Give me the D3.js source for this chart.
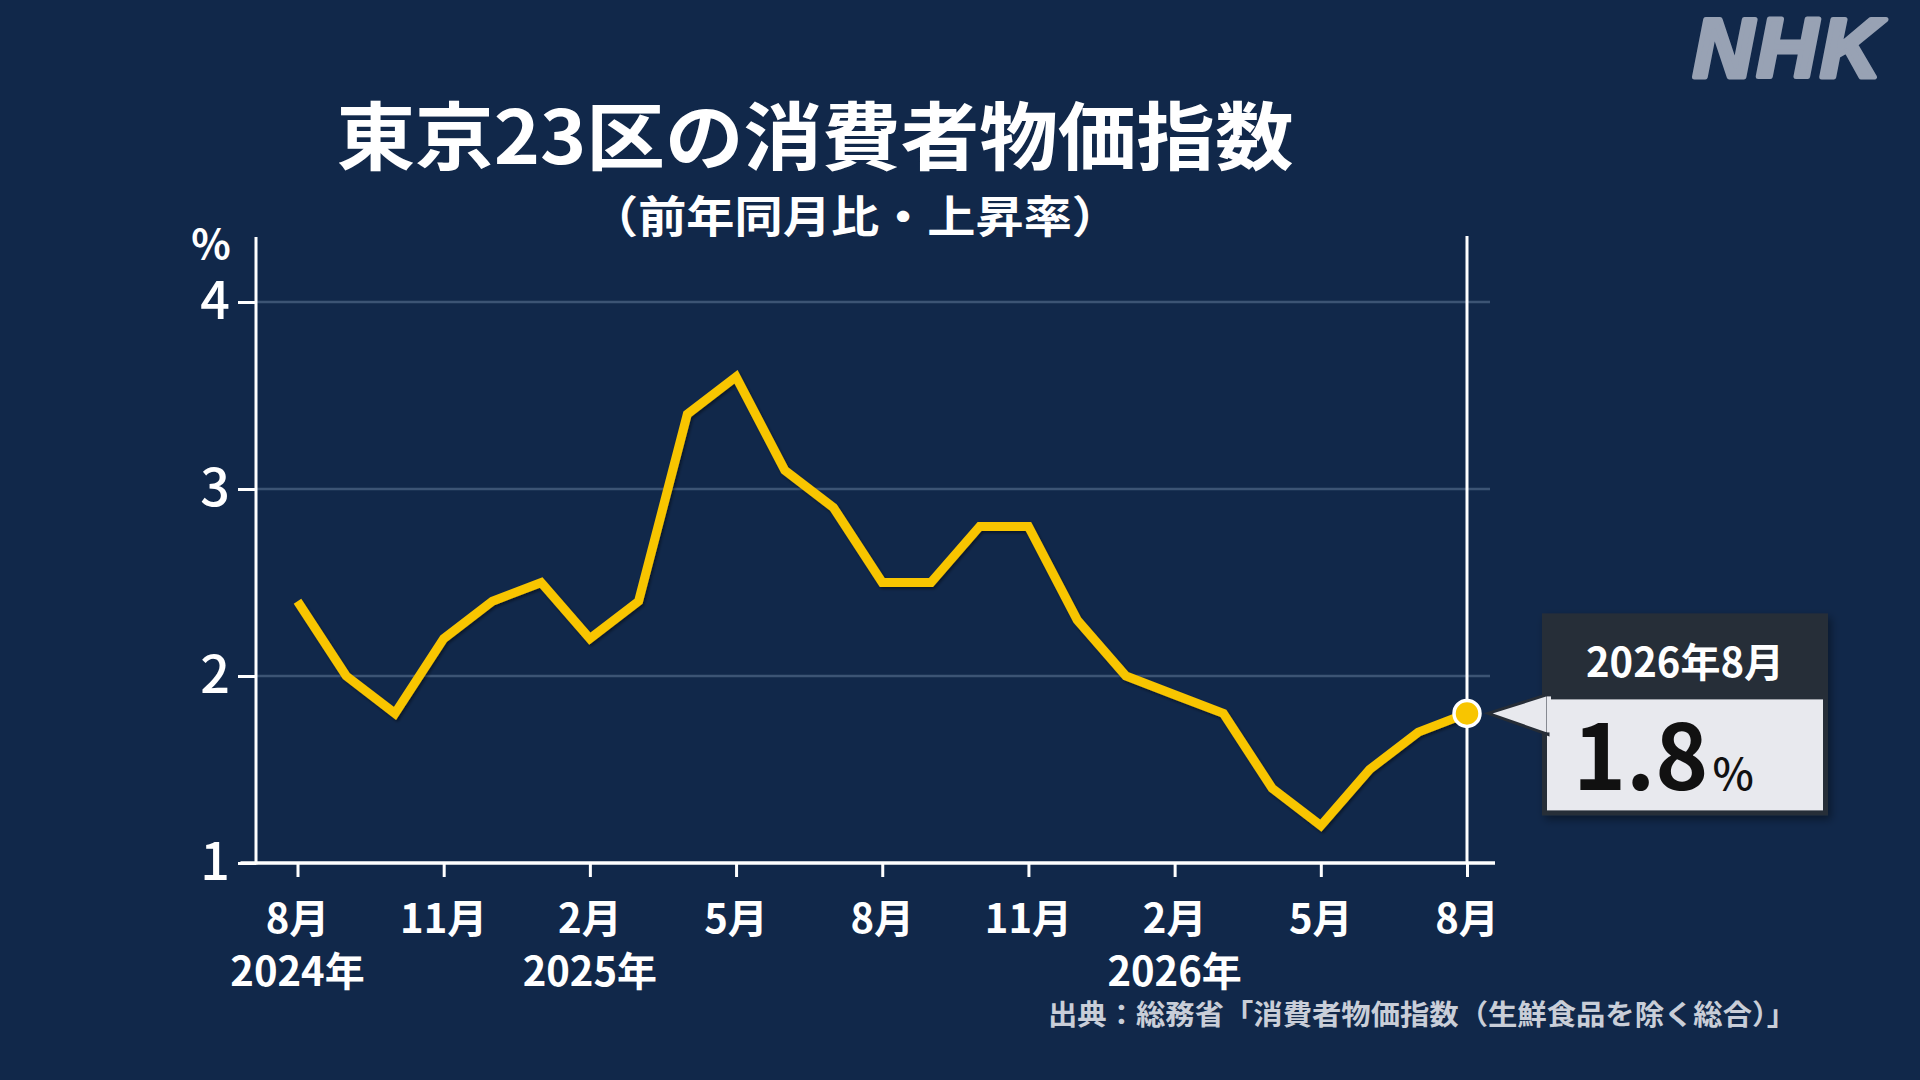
<!DOCTYPE html>
<html lang="ja">
<head>
<meta charset="utf-8">
<script src="https://cdn.jsdelivr.net/npm/d3@7"></script>
<style>
  html, body { margin: 0; padding: 0; background: #11284a; }
  svg { display: block; }
  text { font-family: "Noto Sans CJK JP", "Noto Sans", sans-serif; }
</style>
</head>
<body>
<svg id="chart" width="1920" height="1080"></svg>
<script>
// ---- data ----
const months = ["2024-08","2024-09","2024-10","2024-11","2024-12",
  "2025-01","2025-02","2025-03","2025-04","2025-05","2025-06","2025-07","2025-08","2025-09","2025-10","2025-11","2025-12",
  "2026-01","2026-02","2026-03","2026-04","2026-05","2026-06","2026-07","2026-08"];
const values = [2.4,2.0,1.8,2.2,2.4,2.5,2.2,2.4,3.4,3.6,3.1,2.9,2.5,2.5,2.8,2.8,2.3,2.0,1.9,1.8,1.4,1.2,1.5,1.7,1.8];
const yTicks = [1,2,3,4];
const xTickMonths = ["2024-08","2024-11","2025-02","2025-05","2025-08","2025-11","2026-02","2026-05","2026-08"];
const xTickLabels = ["8月","11月","2月","5月","8月","11月","2月","5月","8月"];
const yearMonths = ["2024-08","2025-02","2026-02"];
const yearLabels = ["2024年","2025年","2026年"];
const titleText = "東京23区の消費者物価指数";
const subtitleText = "（前年同月比・上昇率）";
const sourceText = "出典：総務省「消費者物価指数（生鮮食品を除く総合）」";
const calloutLabel = "2026年8月";
const unitLabel = "%";

const svg = d3.select("#chart");
const W = 1920, H = 1080;
svg.append("rect").attr("width", W).attr("height", H).attr("fill", "#11284a");

const x = d3.scalePoint().domain(months).range([297.5, 1467]);
const y = d3.scaleLinear().domain([1, 4]).range([863, 302]);

const defs = svg.append("defs");
const sh = defs.append("filter").attr("id", "lineShadow").attr("x", "-10%").attr("y", "-10%").attr("width", "120%").attr("height", "120%");
sh.append("feDropShadow").attr("dx", 1.5).attr("dy", 2).attr("stdDeviation", 1.5).attr("flood-color", "#000").attr("flood-opacity", 0.45);
const bs = defs.append("filter").attr("id", "boxShadow").attr("x", "-10%").attr("y", "-10%").attr("width", "130%").attr("height", "130%");
bs.append("feDropShadow").attr("dx", 3).attr("dy", 4).attr("stdDeviation", 4).attr("flood-color", "#000").attr("flood-opacity", 0.4);

// NHK logo
svg.append("text").attr("x", 1884).attr("y", 77).attr("text-anchor", "end")
  .attr("font-weight", 700).attr("font-style", "italic")
  .attr("font-size", 84).attr("letter-spacing", 3)
  .attr("fill", "#98a2b4").attr("stroke", "#98a2b4").attr("stroke-width", 5).attr("stroke-linejoin", "round")
  .style("font-family", "'Liberation Sans', Arial, sans-serif")
  .text("NHK");

// Title & subtitle
svg.append("text").attr("x", 815).attr("y", 131).attr("text-anchor", "middle").attr("dominant-baseline", "central")
  .attr("font-size", 74).attr("font-weight", 700).attr("fill", "#fff")
  .attr("textLength", 957).attr("lengthAdjust", "spacingAndGlyphs")
  .text(titleText);
svg.append("text").attr("x", 855).attr("y", 214).attr("text-anchor", "middle").attr("dominant-baseline", "central")
  .attr("font-size", 44).attr("font-weight", 700).attr("fill", "#fff")
  .attr("textLength", 530).attr("lengthAdjust", "spacingAndGlyphs")
  .text(subtitleText);

// gridlines
const gridEnd = x(months[months.length - 1]) + 23;
svg.append("g").selectAll("line").data(yTicks.filter(d => d > 1)).join("line")
  .attr("x1", 256).attr("x2", gridEnd)
  .attr("y1", d => y(d)).attr("y2", d => y(d))
  .attr("stroke", "#3c5474").attr("stroke-width", 2.5);

// y axis
const yAxis = svg.append("g").attr("transform", "translate(256,0)")
  .call(d3.axisLeft(y).tickValues(yTicks).tickSize(18).tickPadding(8).tickFormat(d3.format("d")));
yAxis.select(".domain").remove();
yAxis.selectAll(".tick line").attr("stroke", "#fff").attr("stroke-width", 3);
yAxis.selectAll(".tick text").attr("fill", "#fff").attr("font-size", 52).attr("font-weight", 500)
  .style("font-family", "'Noto Sans CJK JP', sans-serif");
svg.append("line").attr("x1", 256).attr("x2", 256).attr("y1", y(4) - 65).attr("y2", y(1) + 1.5)
  .attr("stroke", "#fff").attr("stroke-width", 3);
svg.append("text").attr("x", 211).attr("y", 241).attr("text-anchor", "middle").attr("dominant-baseline", "central")
  .attr("font-size", 41).attr("font-weight", 700).attr("fill", "#fff").text(unitLabel);

// vertical marker line at last month
const lastM = months[months.length - 1];
const lastV = values[values.length - 1];
svg.append("line").attr("x1", x(lastM)).attr("x2", x(lastM)).attr("y1", y(4) - 66).attr("y2", y(1))
  .attr("stroke", "#fff").attr("stroke-width", 3);

// x axis
const xAxis = svg.append("g").attr("transform", `translate(0,${y(1)})`)
  .call(d3.axisBottom(x).tickValues(xTickMonths).tickSize(14).tickFormat(""));
xAxis.select(".domain").remove();
xAxis.selectAll(".tick line").attr("stroke", "#fff").attr("stroke-width", 3);
svg.append("line").attr("x1", x(months[0]) - 57).attr("x2", x(lastM) + 28).attr("y1", y(1)).attr("y2", y(1))
  .attr("stroke", "#fff").attr("stroke-width", 3.5);

svg.append("g").selectAll("text").data(xTickMonths).join("text")
  .attr("x", d => x(d)).attr("y", 916).attr("text-anchor", "middle").attr("dominant-baseline", "central")
  .attr("font-size", 40).attr("font-weight", 700).attr("fill", "#fff")
  .text((d, i) => xTickLabels[i]);
svg.append("g").selectAll("text").data(yearMonths).join("text")
  .attr("x", d => x(d)).attr("y", 969).attr("text-anchor", "middle").attr("dominant-baseline", "central")
  .attr("font-size", 40).attr("font-weight", 700).attr("fill", "#fff")
  .text((d, i) => yearLabels[i]);

// source
svg.append("text").attr("x", 1796).attr("y", 1013).attr("text-anchor", "end").attr("dominant-baseline", "central")
  .attr("font-size", 28).attr("font-weight", 700).attr("fill", "#c9ced8")
  .attr("textLength", 748).attr("lengthAdjust", "spacingAndGlyphs")
  .text(sourceText);

// data line
const line = d3.line().x((d, i) => x(months[i])).y(d => y(d)).curve(d3.curveLinear);
svg.append("path").datum(values).attr("d", line)
  .attr("fill", "none").attr("stroke", "#f8c500").attr("stroke-width", 9)
  .attr("stroke-linejoin", "miter").attr("stroke-linecap", "butt")
  .attr("filter", "url(#lineShadow)");

// callout
const px = x(lastM), py = y(lastV);
const bx = px + 75, by = py - 100;
const cg = svg.append("g");
cg.append("rect").attr("x", bx).attr("y", by).attr("width", 286).attr("height", 202)
  .attr("fill", "#262d37").attr("filter", "url(#boxShadow)");
cg.append("rect").attr("x", bx + 5).attr("y", by + 86).attr("width", 276).attr("height", 111)
  .attr("fill", "#e8e9ee");
cg.append("polygon")
  .attr("points", [[px + 21, py], [bx + 6, py - 19], [bx + 6, py + 21]].map(p => p.join(",")).join(" "))
  .attr("fill", "#e8e9ee").attr("stroke", "#262d37").attr("stroke-width", 3).attr("stroke-linejoin", "miter");
cg.append("rect").attr("x", bx + 5).attr("y", py - 17).attr("width", 4).attr("height", 36).attr("fill", "#e8e9ee");
cg.append("text").attr("x", bx + 143).attr("y", by + 47).attr("text-anchor", "middle").attr("dominant-baseline", "central")
  .attr("font-size", 40).attr("font-weight", 700).attr("fill", "#fff").text(calloutLabel);
const vt = cg.append("text").attr("x", bx + 31).attr("y", by + 177).attr("fill", "#111");
vt.append("tspan").attr("font-size", 90).attr("font-weight", 700).text(d3.format(".1f")(lastV));
vt.append("tspan").attr("font-size", 44).attr("font-weight", 500).attr("dx", 4).text(unitLabel);

// end point
svg.append("circle").attr("cx", px).attr("cy", py).attr("r", 13)
  .attr("fill", "#f8c500").attr("stroke", "#fff").attr("stroke-width", 3.5);
</script>
</body>
</html>
